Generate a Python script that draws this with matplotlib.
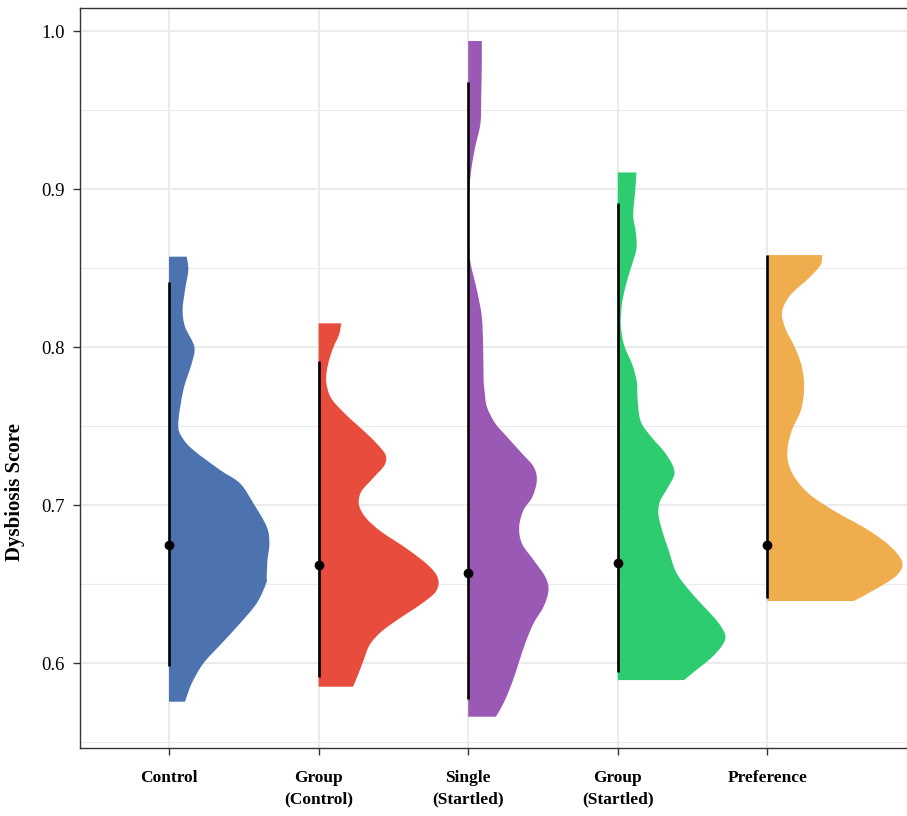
import numpy as np
import matplotlib.pyplot as plt
from matplotlib.path import Path
from matplotlib.patches import PathPatch
from matplotlib.ticker import MultipleLocator, FormatStrFormatter

plt.rcParams['font.family'] = ['Liberation Serif', 'DejaVu Serif']

groups = ["Control", "Group\n(Control)", "Single\n(Startled)", "Group\n(Startled)", "Preference"]
colors = ["#4C72B0", "#E74C3C", "#9B59B6", "#2ECC71", "#F0AD4E"]

# half-violin outlines: score levels (top to bottom) and density width in category units
control_y = [0.8572, 0.8487, 0.8361, 0.8234, 0.8129, 0.8002, 0.7897, 0.7728, 0.7517, 0.7432,
             0.7348, 0.7222, 0.7137, 0.7011, 0.6863, 0.6757, 0.6652, 0.6546, 0.6504, 0.6378,
             0.6251, 0.6124, 0.5998, 0.5871, 0.5755]
control_w = [0.118, 0.129, 0.107, 0.091, 0.107, 0.169, 0.152, 0.096, 0.062, 0.085,
             0.163, 0.341, 0.475, 0.564, 0.653, 0.671, 0.658, 0.653, 0.649, 0.586,
             0.475, 0.352, 0.230, 0.152, 0.107]

group_ctrl_y = [0.8150, 0.8076, 0.7992, 0.7886, 0.7781, 0.7675, 0.7570, 0.7464, 0.7380, 0.7316,
                0.7253, 0.7169, 0.7084, 0.7000, 0.6916, 0.6831, 0.6726, 0.6620, 0.6536, 0.6451,
                0.6367, 0.6283, 0.6198, 0.6114, 0.6008, 0.5924, 0.5850]
group_ctrl_w = [0.152, 0.136, 0.096, 0.062, 0.051, 0.085, 0.185, 0.308, 0.397, 0.448,
                0.441, 0.363, 0.285, 0.270, 0.319, 0.419, 0.586, 0.731, 0.798, 0.783,
                0.676, 0.542, 0.419, 0.341, 0.297, 0.263, 0.230]

single_y = [0.9937, 0.9795, 0.9584, 0.9416, 0.9268, 0.9120, 0.8994, 0.8825, 0.8656, 0.8530,
            0.8361, 0.8192, 0.8002, 0.7791, 0.7728, 0.7622, 0.7517, 0.7432, 0.7327, 0.7243,
            0.7158, 0.7053, 0.6968, 0.6863, 0.6757, 0.6652, 0.6546, 0.6462, 0.6357, 0.6251,
            0.6124, 0.5998, 0.5871, 0.5745, 0.5660]
single_w = [0.091, 0.091, 0.087, 0.082, 0.047, 0.020, 0.007, 0.002, 0.002, 0.016,
            0.058, 0.091, 0.100, 0.103, 0.109, 0.125, 0.181, 0.259, 0.359, 0.437,
            0.459, 0.430, 0.370, 0.341, 0.359, 0.437, 0.515, 0.537, 0.504, 0.437,
            0.381, 0.337, 0.292, 0.236, 0.185]

group_start_y = [0.9105, 0.8983, 0.8835, 0.8730, 0.8624, 0.8519, 0.8392, 0.8266, 0.8139, 0.8013,
                 0.7886, 0.7781, 0.7675, 0.7570, 0.7506, 0.7422, 0.7338, 0.7253, 0.7190, 0.7106,
                 0.7021, 0.6937, 0.6831, 0.6705, 0.6578, 0.6473, 0.6367, 0.6262, 0.6177, 0.6114,
                 0.6030, 0.5945, 0.5892]
group_start_w = [0.125, 0.116, 0.103, 0.120, 0.125, 0.094, 0.054, 0.027, 0.020, 0.042,
                 0.098, 0.127, 0.132, 0.143, 0.165, 0.232, 0.310, 0.366, 0.377, 0.332,
                 0.281, 0.272, 0.299, 0.343, 0.388, 0.466, 0.566, 0.667, 0.718, 0.700,
                 0.622, 0.511, 0.444]

pref_y = [0.8582, 0.8519, 0.8435, 0.8329, 0.8224, 0.8118, 0.8013, 0.7907, 0.7802, 0.7696,
          0.7591, 0.7485, 0.7380, 0.7274, 0.7169, 0.7063, 0.6958, 0.6852, 0.6747, 0.6641,
          0.6557, 0.6473, 0.6392]
pref_w = [0.366, 0.355, 0.276, 0.154, 0.098, 0.120, 0.176, 0.221, 0.243, 0.243,
          0.221, 0.169, 0.138, 0.138, 0.187, 0.288, 0.455, 0.656, 0.812, 0.901,
          0.867, 0.734, 0.577]

# centre point and interval per group
centre = [0.675, 0.662, 0.657, 0.663, 0.675]
low = [0.598, 0.591, 0.577, 0.594, 0.641]
high = [0.841, 0.791, 0.968, 0.891, 0.858]

outlines = [(control_y, control_w), (group_ctrl_y, group_ctrl_w), (single_y, single_w),
            (group_start_y, group_start_w), (pref_y, pref_w)]


def half_violin(x0, ys, ws):
    # smooth Catmull-Rom outline through the profile points, flat ends at the data range
    p = np.column_stack([x0 + np.asarray(ws), np.asarray(ys)])
    ext = np.vstack([p[0], p, p[-1]])
    verts = [(x0, p[0, 1]), p[0]]
    codes = [Path.MOVETO, Path.LINETO]
    for i in range(len(p) - 1):
        a, b, c, d = ext[i], ext[i + 1], ext[i + 2], ext[i + 3]
        verts += [b + (c - a) / 6, c - (d - b) / 6, c]
        codes += [Path.CURVE4] * 3
    verts += [(x0, p[-1, 1]), (x0, p[0, 1])]
    codes += [Path.LINETO, Path.CLOSEPOLY]
    return Path(np.array(verts, dtype=float), codes)


fig = plt.figure(figsize=(9.07, 8.16), dpi=100)
ax = fig.add_axes([80 / 907, 68 / 816, 828 / 907, 740 / 816])

xs = np.arange(1, len(groups) + 1)
for x, (ys, ws), col in zip(xs, outlines, colors):
    ax.add_patch(PathPatch(half_violin(x, ys, ws), facecolor=col, edgecolor='none', zorder=2))

ax.vlines(xs, low, high, color='black', lw=1.9, zorder=3)
ax.plot(xs, centre, 'o', color='black', ms=6, zorder=4)

ax.set_xlim(0.405, 5.94)
ax.set_ylim(0.5462, 1.0146)
ax.set_xticks(xs)
ax.set_xticklabels(groups, fontweight='bold', fontsize=12.5, linespacing=1.45)
ax.yaxis.set_major_locator(MultipleLocator(0.1))
ax.yaxis.set_minor_locator(MultipleLocator(0.05))
ax.yaxis.set_major_formatter(FormatStrFormatter('%.1f'))
ax.tick_params(axis='y', which='major', labelsize=13.5, length=5, width=1, color='#333333', pad=6)
ax.tick_params(axis='x', which='major', length=5, width=1, color='#333333', pad=11)
ax.tick_params(axis='y', which='minor', length=0)

ax.set_axisbelow(True)
ax.grid(True, which='major', color='#EBEBEB', lw=1.4)
ax.grid(True, which='minor', axis='y', color='#EBEBEB', lw=0.8)
for s in ax.spines.values():
    s.set_color('#333333')
    s.set_linewidth(1.0)

ax.set_ylabel("Dysbiosis Score", fontweight='bold', fontsize=15)
ax.yaxis.set_label_coords(-0.066, 0.346)

fig.savefig("out.png", dpi=100)
